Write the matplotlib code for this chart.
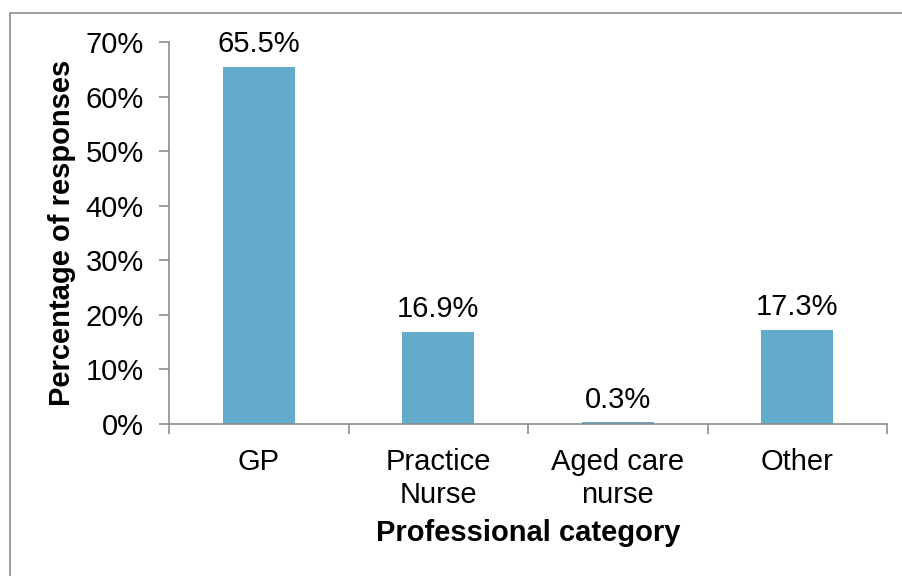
import matplotlib
matplotlib.use("Agg")
import matplotlib.pyplot as plt
import matplotlib.patches as mpatches

plt.rcParams["font.family"] = ["Liberation Sans", "DejaVu Sans"]

categories = ["GP", "Practice\nNurse", "Aged care\nnurse", "Other"]
values = [65.5, 16.9, 0.3, 17.3]
yticks = [0, 10, 20, 30, 40, 50, 60, 70]

W, H = 902, 576
fig = plt.figure(figsize=(W / 100, H / 100), dpi=100)
fig.patch.set_facecolor("white")

# outer chart frame (runs off the right and bottom edges)
fig.add_artist(mpatches.Rectangle((10 / W, -0.1), 1.2, (H - 13) / H + 0.1,
                                  transform=fig.transFigure, fill=False,
                                  edgecolor="#8C8C8C", linewidth=1.2))

ax = fig.add_axes([169 / W, (H - 424) / H, (887 - 169) / W, (424 - 42) / H])

x = range(len(categories))
bars = ax.bar(x, values, width=0.4, color="#62ABCB", zorder=2)

fs = 21
for xi, v in zip(x, values):
    ax.annotate(f"{v:.1f}%", (xi, v), xytext=(0, 6), textcoords="offset points",
                ha="center", va="bottom", fontsize=fs, color="black")

ax.set_xlim(-0.5, len(categories) - 0.5)
ax.set_ylim(0, 70)
ax.set_yticks(yticks)
ax.set_yticklabels([f"{t}%" for t in yticks], fontsize=fs)
ax.set_xticks(list(x))
ax.set_xticklabels(categories, fontsize=fs, linespacing=1.25)
ax.set_xticks([i - 0.5 for i in range(len(categories) + 1)], minor=True)

ax.tick_params(axis="x", which="major", length=0, pad=17)
ax.tick_params(axis="x", which="minor", length=7, width=1.2, color="#8C8C8C")
ax.tick_params(axis="y", length=7, width=1.2, color="#8C8C8C", pad=11)

ax.set_xlabel("Professional category", fontsize=fs, fontweight="bold", labelpad=7)
ax.set_ylabel("Percentage of responses", fontsize=fs, fontweight="bold", labelpad=7)

for spine in ["top", "right"]:
    ax.spines[spine].set_visible(False)
for spine in ["left", "bottom"]:
    ax.spines[spine].set_color("#8C8C8C")
    ax.spines[spine].set_linewidth(1.2)

fig.savefig("out.png", dpi=100)
